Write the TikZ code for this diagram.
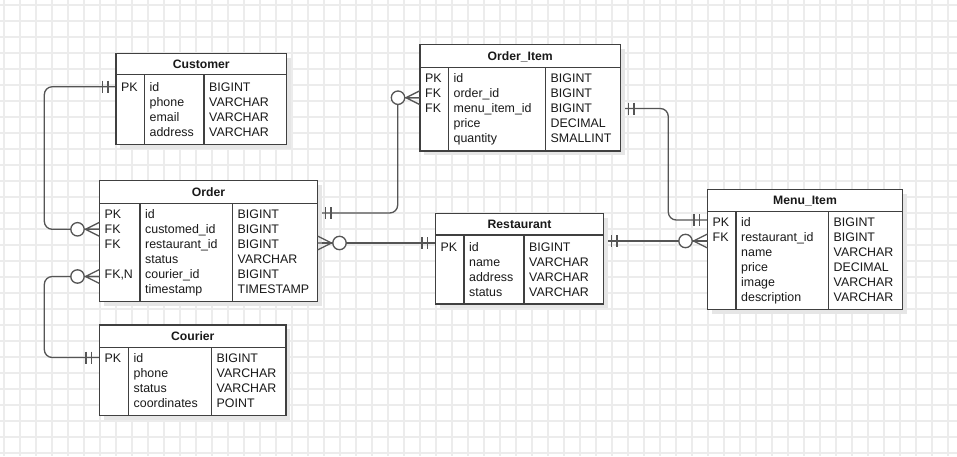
\documentclass[tikz,border=0pt]{standalone}
\usepackage{fontspec}
\setmainfont{Liberation Sans}
\usetikzlibrary{fit}
\definecolor{gridc}{RGB}{236,236,236}
\definecolor{linec}{RGB}{64,64,64}
\definecolor{connc}{RGB}{85,85,85}
\definecolor{textc}{RGB}{25,25,25}
\definecolor{shadowc}{RGB}{230,230,230}
\tikzset{
  tablebox/.style={draw=linec, line width=1.3pt, fill=white, inner sep=0pt, rectangle},
  divline/.style={draw=linec, line width=1.1pt},
  conn/.style={draw=connc, line width=1.3pt},
  celltext/.style={anchor=base west, inner sep=0pt, text=textc, font=\fontsize{12.4}{14}\selectfont},
  titletext/.style={anchor=base, inner sep=0pt, text=textc, font=\fontsize{12.2}{14}\selectfont\bfseries},
  gridline/.style={draw=gridc, line width=1.2pt}
}
% name, title, L, T, R, B, header bottom, divider 1, divider 2
\newcommand{\ertbox}[9]{%
  \fill[shadowc] ({#3+4},{#4+4}) rectangle ({#5+4},{#6+4});
  \coordinate (#1-nw) at (#3,#4);
  \coordinate (#1-se) at (#5,#6);
  \node[tablebox, fit=(#1-nw)(#1-se)] (#1) {};
  \draw[divline] (#3,#7) -- (#5,#7) (#8,#7) -- (#8,#6) (#9,#7) -- (#9,#6);
  \node[titletext] (#1-title) at ({(#3+#5)/2},{(#4+#7)/2+4.3}) {#2};
}
% name, x key col, x name col, x type col, first row centre y, rows
\newcommand{\errows}[6]{%
  \foreach \k/\n/\t [count=\i] in {#6}{%
    \node[celltext] (#1-k\i) at ({#2+5},{#5+15*(\i-1)+4.4}) {\k};
    \node[celltext] (#1-n\i) at ({#3+5},{#5+15*(\i-1)+4.4}) {\n};
    \node[celltext] (#1-t\i) at ({#4+5},{#5+15*(\i-1)+4.4}) {\t};
  }}
% mandatory one: x edge, y, direction
\newcommand{\mone}[3]{%
  \draw[conn] ({#1+(#3)*8},{#2-6}) -- ({#1+(#3)*8},{#2+6})
              ({#1+(#3)*13.5},{#2-6}) -- ({#1+(#3)*13.5},{#2+6});}
% zero or many: x edge, y, direction
\newcommand{\mmany}[3]{%
  \draw[conn] ({#1+(#3)*14},#2) -- (#1,{#2-7})
              ({#1+(#3)*14},#2) -- (#1,#2)
              ({#1+(#3)*14},#2) -- (#1,{#2+7});
  \draw[conn, fill=white] ({#1+(#3)*22},#2) circle[radius=6.7];}
\begin{document}
\begin{tikzpicture}[x=1pt,y=-1pt]
\useasboundingbox (0,0) rectangle (957,456);
\fill[white] (0,0) rectangle (957,456);
\foreach \gx in {4,20,...,948} \draw[gridline] (\gx,0) -- (\gx,456);
\foreach \gy in {5,21,...,453} \draw[gridline] (0,\gy) -- (957,\gy);

% connectors
\draw[conn, rounded corners=8] (116,86.7) -- (44.3,86.7) -- (44.3,229.3) -- (99.5,229.3);
\draw[conn, rounded corners=8] (99.5,276.5) -- (44.3,276.5) -- (44.3,357.5) -- (99.5,357.5);
\draw[conn, rounded corners=8] (317.5,213) -- (397.7,213) -- (397.7,97.7) -- (420,97.7);
\draw[conn] (317.5,243) -- (435.5,243);
\draw[conn] (603.5,241) -- (707.5,241);
\draw[conn, rounded corners=8] (620.5,108.5) -- (668.3,108.5) -- (668.3,220) -- (707.5,220);

% tables
\ertbox{cust}{Customer}{116}{53.5}{286.5}{144.5}{74.5}{144.5}{204}
\errows{cust}{116}{144.5}{204}{86.7}{PK/id/BIGINT, {}/phone/VARCHAR, {}/email/VARCHAR, {}/address/VARCHAR}

\ertbox{oitem}{Order\_Item}{420}{44.5}{620.5}{151}{67.5}{448.5}{545.5}
\errows{oitem}{420}{448.5}{545.5}{78.3}{PK/id/BIGINT, FK/order\_id/BIGINT, FK/menu\_item\_id/BIGINT, {}/price/DECIMAL, {}/quantity/SMALLINT}

\ertbox{order}{Order}{99.5}{180.5}{317.5}{301.5}{203.5}{140}{232.5}
\errows{order}{99.5}{140}{232.5}{214.3}{PK/id/BIGINT, FK/customed\_id/BIGINT, FK/restaurant\_id/BIGINT, {}/status/VARCHAR, {FK,N}/courier\_id/BIGINT, {}/timestamp/TIMESTAMP}

\ertbox{rest}{Restaurant}{435.5}{213.5}{603.5}{304}{235}{464}{524}
\errows{rest}{435.5}{464}{524}{246.7}{PK/id/BIGINT, {}/name/VARCHAR, {}/address/VARCHAR, {}/status/VARCHAR}

\ertbox{mitem}{Menu\_Item}{707.5}{189.5}{902.5}{309.5}{211.5}{736}{828.5}
\errows{mitem}{707.5}{736}{828.5}{222.3}{PK/id/BIGINT, FK/restaurant\_id/BIGINT, {}/name/VARCHAR, {}/price/DECIMAL, {}/image/VARCHAR, {}/description/VARCHAR}

\ertbox{cour}{Courier}{99.5}{325}{286}{415.5}{347.5}{128.5}{211.5}
\errows{cour}{99.5}{128.5}{211.5}{358.4}{PK/id/BIGINT, {}/phone/VARCHAR, {}/status/VARCHAR, {}/coordinates/POINT}

% markers
\mone{116}{86.7}{-1}
\mmany{99.5}{229.3}{-1}
\mmany{99.5}{276.5}{-1}
\mone{99.5}{357.5}{-1}
\mone{317.5}{213}{1}
\mmany{420}{97.7}{-1}
\mmany{317.5}{243}{1}
\mone{435.5}{243}{-1}
\mone{603.5}{241}{1}
\mmany{707.5}{241}{-1}
\mone{620.5}{108.5}{1}
\mone{707.5}{220}{-1}
\end{tikzpicture}
\end{document}
